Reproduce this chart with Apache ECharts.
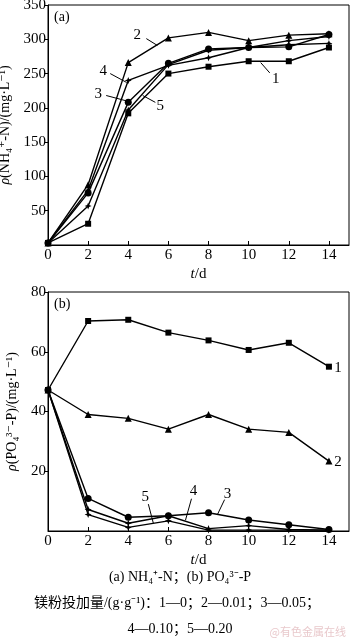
<!DOCTYPE html>
<html>
<head>
<meta charset="utf-8">
<script src="https://cdn.jsdelivr.net/npm/echarts@6/dist/echarts.min.js"></script>
<style>
  html, body { margin: 0; padding: 0; background: #fff; }
  #chart { width: 350px; height: 640px; }
</style>
</head>
<body>
<div id="chart"></div>
<script>
// Sampling days
var days = [0, 2, 4, 6, 8, 10, 12, 14];

// (a) NH4+-N concentration, mg/L, per magnesium dose
var nh4_1 = [3, 31, 192, 250, 260, 268, 268, 288];
var nh4_2 = [3, 88, 266, 302, 310, 298, 306, 308];
var nh4_3 = [3, 76, 208, 265, 286, 288, 289, 307];
var nh4_4 = [3, 80, 240, 262, 273, 288, 298, 304];
var nh4_5 = [3, 57, 197, 263, 284, 288, 292, 294];

// (b) PO4 3- -P concentration, mg/L, per magnesium dose
var po4_1 = [47.2, 70.3, 70.7, 66.4, 63.8, 60.6, 63.0, 55.0];
var po4_2 = [47.2, 39.0, 37.7, 34.1, 39.0, 34.1, 33.0, 23.4];
var po4_3 = [47.2, 10.9, 4.6, 5.1, 6.1, 3.7, 2.1, 0.5];
var po4_4 = [47.2, 7.2, 2.6, 5.1, 0.8, 1.8, 0.5, 0.3];
var po4_5 = [47.2, 5.5, 1.2, 3.4, 0.3, 0.3, 0.3, 0.3];

var seriesNames = ['1', '2', '3', '4', '5'];
var starPath = 'path://M0,-1 L0.28,-0.28 L1,0 L0.28,0.28 L0,1 L-0.28,0.28 L-1,0 L-0.28,-0.28 Z';
var symbols = ['rect', 'triangle', 'circle', starPath, starPath];
var symbolSizes = [6, 7, 7, 7, 7];

var SERIF = '"Liberation Serif", "DejaVu Serif", serif';
var CAP = '"Liberation Serif", "Noto Sans CJK SC", serif';

function pairs(vals) {
  return days.map(function (d, i) { return [d, vals[i]]; });
}

function lineSeries(vals, idx, gridIdx) {
  return {
    type: 'line',
    name: seriesNames[idx],
    xAxisIndex: gridIdx,
    yAxisIndex: gridIdx,
    data: pairs(vals),
    symbol: symbols[idx],
    symbolSize: symbolSizes[idx],
    showAllSymbol: true,
    lineStyle: { color: '#000', width: 1.4 },
    itemStyle: { color: '#000' },
    animation: false,
    z: 3
  };
}

function xAxisDef(gridIdx) {
  return {
    type: 'value', gridIndex: gridIdx, min: 0, max: 15, interval: 2,
    name: '{i|t}/d', nameLocation: 'middle', nameGap: 22,
    nameTextStyle: {
      fontFamily: SERIF, fontSize: 15, color: '#000',
      rich: { i: { fontFamily: SERIF, fontSize: 15, fontStyle: 'italic', color: '#000' } }
    },
    axisLine: { show: true, lineStyle: { color: '#000', width: 1 } },
    axisTick: { show: true, inside: true, length: 4, lineStyle: { color: '#000' } },
    axisLabel: { show: true, showMaxLabel: false, margin: 3, fontFamily: SERIF, fontSize: 15, color: '#000' },
    splitLine: { show: false }
  };
}

function yAxisDef(gridIdx, max, interval, name) {
  return {
    type: 'value', gridIndex: gridIdx, min: 0, max: max, interval: interval,
    name: name, nameLocation: 'middle', nameRotate: 90, nameGap: 29,
    nameTextStyle: {
      fontFamily: SERIF, fontSize: 14, color: '#000',
      rich: { i: { fontFamily: SERIF, fontSize: 14, fontStyle: 'italic', color: '#000' } }
    },
    axisLine: { show: true, lineStyle: { color: '#000', width: 1 } },
    axisTick: { show: true, inside: false, length: 4, lineStyle: { color: '#000' } },
    axisLabel: { show: true, showMinLabel: false, margin: 2, fontFamily: SERIF, fontSize: 15, color: '#000' },
    splitLine: { show: false }
  };
}

var chart = echarts.init(document.getElementById('chart'), null, { renderer: 'canvas' });

var option = {
  backgroundColor: '#fff',
  animation: false,
  grid: [
    { left: 48, top: 5, width: 301, height: 240, outerBoundsMode: 'none', containLabel: false, show: true, borderColor: '#000', borderWidth: 1, backgroundColor: 'transparent' },
    { left: 48, top: 292, width: 301, height: 239, outerBoundsMode: 'none', containLabel: false, show: true, borderColor: '#000', borderWidth: 1, backgroundColor: 'transparent' }
  ],
  xAxis: [xAxisDef(0), xAxisDef(1)],
  yAxis: [
    yAxisDef(0, 350, 50, '{i|ρ}(NH₄⁺-N)/(mg·L⁻¹)'),
    yAxisDef(1, 80, 20, '{i|ρ}(PO₄³⁻-P)/(mg·L⁻¹)')
  ],
  series: [
    lineSeries(nh4_1, 0, 0), lineSeries(nh4_2, 1, 0), lineSeries(nh4_3, 2, 0),
    lineSeries(nh4_4, 3, 0), lineSeries(nh4_5, 4, 0),
    lineSeries(po4_1, 0, 1), lineSeries(po4_2, 1, 1), lineSeries(po4_3, 2, 1),
    lineSeries(po4_4, 3, 1), lineSeries(po4_5, 4, 1)
  ]
};
chart.setOption(option);

// Curve labels with leader lines, placed in data coordinates of each panel
var notes = [
  // grid, label, text position, leader start, leader end
  [0, '2', [4.45, 306], [4.9, 301], [5.45, 291]],
  [0, '4', [2.75, 254], [3.1, 250], [3.92, 237]],
  [0, '3', [2.5, 220], [2.9, 218], [3.93, 210]],
  [0, '5', [5.6, 203], [5.35, 208], [4.72, 218]],
  [0, '1', [11.35, 242], [11.05, 251], [10.6, 266]],
  [1, '1', [14.45, 54.5], null, null],
  [1, '2', [14.45, 23.2], null, null],
  [1, '5', [4.85, 11.4], [5.0, 9.0], [5.25, 2.6]],
  [1, '4', [7.25, 13.4], [7.15, 10.8], [6.85, 3.6]],
  [1, '3', [8.95, 12.2], [8.8, 10.5], [8.45, 5.6]]
];

var graphics = [];
notes.forEach(function (n) {
  var g = n[0];
  var p = chart.convertToPixel({ gridIndex: g }, n[2]);
  graphics.push({
    type: 'text', x: p[0], y: p[1], z: 10,
    style: { text: n[1], font: '15px ' + SERIF, fill: '#000', align: 'center', verticalAlign: 'middle' }
  });
  if (n[3]) {
    var a = chart.convertToPixel({ gridIndex: g }, n[3]);
    var b = chart.convertToPixel({ gridIndex: g }, n[4]);
    graphics.push({
      type: 'line', z: 10,
      shape: { x1: a[0], y1: a[1], x2: b[0], y2: b[1] },
      style: { stroke: '#000', lineWidth: 1 }
    });
  }
});

// Panel tags
var tagA = chart.convertToPixel({ gridIndex: 0 }, [0, 350]);
var tagB = chart.convertToPixel({ gridIndex: 1 }, [0, 80]);
graphics.push({ type: 'text', x: tagA[0] + 6, y: tagA[1] + 5, style: { text: '(a)', font: '14px ' + SERIF, fill: '#000' } });
graphics.push({ type: 'text', x: tagB[0] + 6, y: tagB[1] + 5, style: { text: '(b)', font: '14px ' + SERIF, fill: '#000' } });

// Caption below the panels
graphics.push({ type: 'text', x: 180, y: 577, style: { text: '(a) NH₄⁺-N；(b) PO₄³⁻-P', font: '14px ' + CAP, fill: '#000', align: 'center', verticalAlign: 'middle' } });
graphics.push({ type: 'text', x: 177, y: 603, style: { text: '镁粉投加量/(g·g⁻¹)：1—0；2—0.01；3—0.05；', font: '14px ' + CAP, fill: '#000', align: 'center', verticalAlign: 'middle' } });
graphics.push({ type: 'text', x: 180, y: 629, style: { text: '4—0.10；5—0.20', font: '14px ' + CAP, fill: '#000', align: 'center', verticalAlign: 'middle' } });
graphics.push({ type: 'text', x: 346, y: 632, style: { text: '@有色金属在线', font: '11px "Noto Sans CJK SC", sans-serif', fill: '#e9c9cc', align: 'right', verticalAlign: 'middle' } });

chart.setOption({ graphic: graphics });
</script>
</body>
</html>
